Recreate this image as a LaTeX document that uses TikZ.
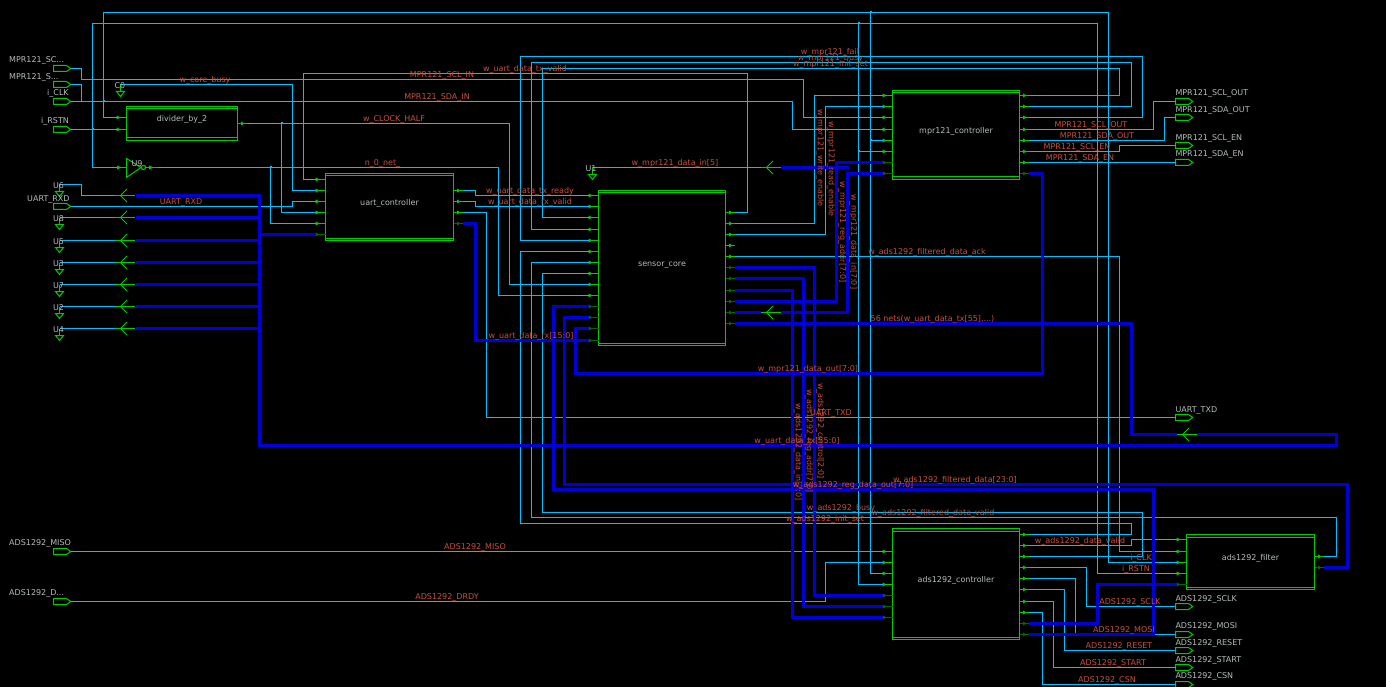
\documentclass[tikz,border=0pt]{standalone}
\usepackage{fontspec}
\setmainfont{DejaVu Sans}
\definecolor{netc}{HTML}{00BFFF}
\definecolor{busc}{HTML}{0000D8}
\definecolor{cellc}{HTML}{00CC00}
\definecolor{darkc}{HTML}{006A00}
\definecolor{redl}{HTML}{C8503C}
\definecolor{grayl}{HTML}{B4BCBC}
\tikzset{
 net/.style={color=netc,line width=1pt},
 bus/.style={color=busc,line width=3pt,line join=miter},
 cellline/.style={color=cellc,line width=1pt},
 cellbox/.style={draw=cellc,line width=1pt,inner sep=0pt,fill=none},
 nlbl/.style={text=redl,font=\fontsize{8}{8}\selectfont,inner sep=0pt,text height=8pt,text depth=1.5pt},
 vlbl/.style={nlbl,rotate=-90},
 glbl/.style={text=grayl,font=\fontsize{8}{8}\selectfont,inner sep=0pt,text height=8pt,text depth=1.5pt},
}
% cell: name, centre x, centre y, width, height, label
\newcommand{\cellblock}[6]{%
 \node[cellbox,minimum width=#4pt,minimum height=#5pt] (#1) at (#2,#3) {};
 \draw[cellline] ([yshift=-3pt]#1.north west) -- ([yshift=-3pt]#1.north east);
 \draw[cellline] ([yshift=3pt]#1.south west) -- ([yshift=3pt]#1.south east);
 \node[glbl] (#1-name) at ([yshift=5pt]#1.center) {#6};
}
% pins: coordinate name, cell edge x, y
\newcommand{\pinin}[3]{%
 \coordinate (#1) at (#2-9.5,#3);
 \draw[cellline] (#1) -- (#2,#3);
 \fill[cellc] (#2-9.8,#3-2) -- (#2-6,#3) -- (#2-9.8,#3+2) -- cycle;
}
\newcommand{\pinout}[3]{%
 \coordinate (#1) at (#2+9.5,#3);
 \draw[cellline] (#2,#3) -- (#1);
 \fill[cellc] (#2+3.5,#3-2) -- (#2+7,#3) -- (#2+3.5,#3+2) -- cycle;
}
\newcommand{\pininb}[3]{%
 \coordinate (#1) at (#2-9.5,#3);
 \draw[color=darkc,line width=1pt] (#1) -- (#2,#3);
 \fill[darkc] (#2-9.8,#3-2) -- (#2-6,#3) -- (#2-9.8,#3+2) -- cycle;
}
\newcommand{\pinoutb}[3]{%
 \coordinate (#1) at (#2+9.5,#3);
 \draw[color=darkc,line width=1pt] (#2,#3) -- (#1);
 \fill[darkc] (#2+3.5,#3-2) -- (#2+7,#3) -- (#2+3.5,#3+2) -- cycle;
}
\newcommand{\portshape}[3]{%
 \draw[cellline] (#2,#3-3) -- (#2+13,#3-3) -- (#2+17.3,#3) -- (#2+13,#3+3) -- (#2,#3+3) -- cycle;
 \coordinate (#1) at (#2+17.3,#3);
}
\newcommand{\rightport}[3]{%
 \draw[cellline] (#2,#3-3) -- (#2+13,#3-3) -- (#2+17.3,#3) -- (#2+13,#3+3) -- (#2,#3+3) -- cycle;
 \coordinate (#1) at (#2,#3);
}
\newcommand{\ripper}[2]{%
 \draw[cellline] (#1,#2) -- (#1+20,#2);
 \draw[cellline] (#1+12,#2-6.5) -- (#1+5.5,#2) -- (#1+12,#2+6.5);
}
\newcommand{\gnd}[3]{%
 \coordinate (#1) at (#2,#3);
 \draw[cellline] (#1) -- (#2,#3+7);
 \draw[cellline] (#2-4,#3+7) -- (#2+4,#3+7) -- (#2,#3+12) -- cycle;
}
\newcommand{\jdot}[2]{\fill[netc] (#1-1,#2-1) rectangle (#1+1,#2+1);}
\begin{document}
\begin{tikzpicture}[x=1pt,y=-1pt]
\useasboundingbox (0,0) rectangle (1386,687);
\fill[black] (0,0) rectangle (1386,687);

% ---- cells
\cellblock{dv}{182}{123.5}{111}{34}{divider\_by\_2}
\cellblock{uc}{389.5}{207}{128}{67}{uart\_controller}
\cellblock{sc}{662}{268}{127}{155}{sensor\_core}
\cellblock{mc}{956}{135}{127}{89}{mpr121\_controller}
\cellblock{ac}{956}{584}{127}{111}{ads1292\_controller}
\cellblock{fc}{1250.5}{562}{128}{55}{ads1292\_filter}

% ---- pins
\pinin{dvi1}{126.5}{117.5}
\pinin{dvi2}{126.5}{129.5}
\pinout{dvo}{237.5}{123.5}
\foreach \n/\y in {1/179.5,2/190.5,3/201.5,4/212.5,5/223.5}{\pinin{uci\n}{325.5}{\y}}
\pininb{uci6}{325.5}{234.5}
\foreach \n/\y in {1/190.5,2/201.5,3/212.5}{\pinout{uco\n}{453.5}{\y}}
\pinoutb{uco4}{453.5}{223.5}
\foreach \n/\y in {1/195.5,2/206.5,3/217.5,4/229.5,5/240.5,6/251.5,7/262.5,8/273.5,9/284.5,10/295.5}{\pinin{sci\n}{598.5}{\y}}
\foreach \n/\y in {11/306.5,12/317.5,13/328.5,14/340.5}{\pininb{sci\n}{598.5}{\y}}
\foreach \n/\y in {1/212.5,2/223.5,3/234.5,4/245.5,5/256.5}{\pinout{sco\n}{725.5}{\y}}
\foreach \n/\y in {6/267.5,7/278.5,8/290.5,9/301.5,10/312.5,11/323.5}{\pinoutb{sco\n}{725.5}{\y}}
\foreach \n/\y in {1/95.5,2/106.5,3/117.5,4/129.5,5/140.5,6/151.5}{\pinin{mci\n}{892.5}{\y}}
\foreach \n/\y in {7/162.5,8/173.5}{\pininb{mci\n}{892.5}{\y}}
\foreach \n/\y in {1/95.5,2/106.5,3/117.5,4/129.5,5/140.5,6/151.5,7/162.5}{\pinout{mco\n}{1019.5}{\y}}
\pinoutb{mco8}{1019.5}{173.5}
\foreach \n/\y in {1/551.5,2/562.5,3/573.5,4/584.5}{\pinin{aci\n}{892.5}{\y}}
\foreach \n/\y in {5/595.5,6/606.5,7/617.5}{\pininb{aci\n}{892.5}{\y}}
\foreach \n/\y in {1/534.5,2/545.5,3/556.5,4/567.5,5/578.5,6/589.5,7/601.5,8/612.5}{\pinout{aco\n}{1019.5}{\y}}
\foreach \n/\y in {9/623.5,10/634.5}{\pinoutb{aco\n}{1019.5}{\y}}
\foreach \n/\y in {1/539.5,2/551.5,3/562.5,4/573.5}{\pinin{fci\n}{1186.5}{\y}}
\pininb{fci5}{1186.5}{584.5}
\pinout{fco1}{1314.5}{556.5}
\pinoutb{fco2}{1314.5}{567.5}

% ---- ports
\portshape{psc}{53.5}{68.5}
\portshape{psd}{53.5}{84.5}
\portshape{pclk}{53.5}{101.5}
\portshape{prst}{53.5}{129.5}
\portshape{prxd}{53.5}{206.5}
\portshape{pmiso}{53.5}{551.5}
\portshape{pdrdy}{53.5}{601.5}
\rightport{psclo}{1175.5}{101.5}
\rightport{psdao}{1175.5}{117.5}
\rightport{psclen}{1175.5}{145.5}
\rightport{psdaen}{1175.5}{162.5}
\rightport{ptxd}{1175.5}{417.5}
\rightport{pasclk}{1175.5}{606.5}
\rightport{pamosi}{1175.5}{634.5}
\rightport{pareset}{1175.5}{650.5}
\rightport{pastart}{1175.5}{667.5}
\rightport{pacsn}{1175.5}{684.5}

% ---- ground symbols and rippers
\gnd{g0}{120.5}{84.5}
\gnd{g6}{59.5}{184.5}
\gnd{g8}{59.5}{217.5}
\gnd{g5}{59.5}{240.5}
\gnd{g3}{59.5}{262.5}
\gnd{g7}{59.5}{284.5}
\gnd{g2}{59.5}{306.5}
\gnd{g4}{59.5}{328.5}
\gnd{g1}{592.5}{167.5}
\foreach \y in {195.5,217.5,240.5,262.5,284.5,306.5,328.5}{\ripper{115}{\y}}
\ripper{761}{167.5}
\ripper{761}{312.5}
\ripper{1177}{434.5}

% ---- inverter
\coordinate (u9i) at (117,167.5);
\coordinate (u9o) at (158,167.5);
\draw[cellline] (126.5,158.5) -- (141,167.5) -- (126.5,177.5) -- cycle;
\draw[cellline] (143.5,167.5) circle (2.2);
\draw[cellline] (u9i) -- (126.5,167.5);
\draw[cellline] (145.7,167.5) -- (u9o);
\fill[cellc] (117.2,165.5) -- (121,167.5) -- (117.2,169.5) -- cycle;
\fill[cellc] (149,165.5) -- (153,167.5) -- (149,169.5) -- cycle;

% ---- nets
\draw[net] (psc) -| (81.5,79.5) -| (803.5,117.5) -- (mci3);
\draw[net] (psd) -| (81.5,101.5) -| (792.5,129.5) -- (mci4);
\draw[net] (pclk) -- (103.5,101.5);
\draw[net] (dvi1) -| (103.5,12.5) -| (1108.5,562.5) -- (fci3);
\draw[net] (prst) -- (dvi2);
\draw[net] (u9i) -| (92.5,23.5) -| (1097.5,573.5) -- (fci4);
\draw[net] (870.5,11) |- (aci3);
\draw[net] (870.5,140.5) -- (mci5);
\draw[net] (858.5,22) |- (aci4);
\draw[net] (858.5,151.5) -- (mci6);
\draw[net] (dvo) -| (509.5,284.5) -- (sci9);
\draw[net] (281.5,123.5) |- (uci4);
\draw[net] (u9o) -| (498.5,295.5) -- (sci10);
\draw[net] (270.5,167.5) |- (uci5);
\draw[net] (g0) -| (292.5,190.5) -- (uci2);
\draw[net] (prxd) -| (292.5,201.5) -- (uci3);
\draw[net] (sco1) -| (747.5,73.5) -| (303.5,179.5) -- (uci1);
\draw[net] (uco1) -| (475.5,195.5) -- (sci1);
\draw[net] (uco2) -| (475.5,206.5) -- (sci2);
\draw[net] (uco3) -| (486.5,417.5) -- (ptxd);
\draw[net] (sci3) -| (542.5,68.5) -| (1119.5,95.5) -- (mco1);
\draw[net] (sci4) -| (531.5,62.5) -| (1131.5,106.5) -- (mco2);
\draw[net] (sci5) -| (520.5,56.5) -| (1142.5,117.5) -- (mco3);
\draw[net] (sci6) -| (520.5,523.5) -| (1131.5,534.5) -- (aco1);
\draw[net] (sci7) -| (531.5,517.5) -| (1336.5,556.5) -- (fco1);
\draw[net] (sci8) -| (542.5,512.5) -| (1142.5,556.5) -- (aco3);
\draw[net] (aco2) -| (1131.5,539.5) -- (fci1);
\draw[net] (sco2) -| (814.5,95.5) -- (mci1);
\draw[net] (sco3) -| (825.5,106.5) -- (mci2);
\draw[net] (sco5) -| (1119.5,551.5) -- (fci2);
\draw[net] (mco4) -| (1153.5,101.5) -- (psclo);
\draw[net] (mco5) -| (1164.5,117.5) -- (psdao);
\draw[net] (mco6) -| (1119.5,145.5) -- (psclen);
\draw[net] (mco7) -- (psdaen);
\draw[net] (pmiso) -- (aci1);
\draw[net] (pdrdy) -| (825.5,562.5) -- (aci2);
\draw[net] (aco4) -| (1086.5,606.5) -- (pasclk);
\draw[net] (aco5) -| (1075.5,634.5) -- (pamosi);
\draw[net] (aco6) -| (1064.5,650.5) -- (pareset);
\draw[net] (aco7) -| (1053.5,667.5) -- (pastart);
\draw[net] (aco8) -| (1042.5,684.5) -- (pacsn);
\draw[net] (g6) -| (81.5,195.5) -- (115,195.5);
\foreach \nm/\y in {g8/217.5,g5/240.5,g3/262.5,g7/284.5,g2/306.5,g4/328.5}{\draw[net] (\nm) -- (115,\y);}
\draw[net] (g1) -- (761,167.5);
\jdot{103.5}{101.5}
\jdot{92.5}{129.5}
\jdot{281.5}{123.5}
\jdot{270.5}{167.5}
\jdot{870.5}{12.5}
\jdot{858.5}{23.5}
\jdot{870.5}{140.5}
\jdot{858.5}{151.5}

% ---- buses
\draw[bus] (uco4) -| (475.5,340.5) -- (sci14);
\draw[bus] (sci11) -| (553.5,489.5) -| (1153.5,634.5) -- (aco10);
\draw[bus] (sci12) -| (564.5,484.5) -| (1347.5,567.5) -- (fco2);
\draw[bus] (sci13) -| (575.5,373.5) -| (1042.5,173.5) -- (mco8);
\draw[bus] (sco6) -| (814.5,595.5) -- (aci5);
\draw[bus] (sco7) -| (803.5,606.5) -- (aci6);
\draw[bus] (sco8) -| (792.5,617.5) -- (aci7);
\draw[bus] (sco9) -| (836.5,162.5) -- (mci7);
\draw[bus] (sco10) -- (761,312.5);
\draw[bus] (781,312.5) -| (847.5,173.5) -- (mci8);
\draw[bus] (781,167.5) -- (849,167.5);
\draw[bus] (sco11) -| (1131.5,434.5) -- (1177,434.5);
\draw[bus] (1197,434.5) -| (1336.5,445.5) -| (259.5,195.5) -- (136,195.5);
\foreach \y in {217.5,240.5,262.5,284.5,306.5,328.5}{\draw[bus] (136,\y) -- (259.5,\y);}
\draw[bus] (259.5,234.5) -- (uci6);
\draw[bus] (aco9) -| (1097.5,584.5) -- (fci5);

% ---- port and instance labels
\node[glbl,anchor=west] (t1) at (9,59.5) {MPR121\_SC...};
\node[glbl,anchor=west] (t2) at (9,76) {MPR121\_S...};
\node[glbl,anchor=west] (t3) at (47,92.5) {i\_CLK};
\node[glbl,anchor=west] (t4) at (41,120.5) {i\_RSTN};
\node[glbl,anchor=west] (t5) at (27,198) {UART\_RXD};
\node[glbl,anchor=west] (t6) at (9,542) {ADS1292\_MISO};
\node[glbl,anchor=west] (t7) at (9,592) {ADS1292\_D...};
\node[glbl] (t8) at (120,85) {C0};
\node[glbl] (t9) at (137,163) {U9};
\node[glbl] (t10) at (58.5,185) {U6};
\node[glbl] (t11) at (58.5,218) {U8};
\node[glbl] (t12) at (58.5,241) {U5};
\node[glbl] (t13) at (58.5,263) {U3};
\node[glbl] (t14) at (58.5,285) {U7};
\node[glbl] (t15) at (58.5,307) {U2};
\node[glbl] (t16) at (58.5,329) {U4};
\node[glbl] (t17) at (591,168) {U1};
\node[glbl,anchor=west] (t18) at (1175.3,92) {MPR121\_SCL\_OUT};
\node[glbl,anchor=west] (t19) at (1175.3,109) {MPR121\_SDA\_OUT};
\node[glbl,anchor=west] (t20) at (1175.3,137) {MPR121\_SCL\_EN};
\node[glbl,anchor=west] (t21) at (1175.3,153) {MPR121\_SDA\_EN};
\node[glbl,anchor=west] (t22) at (1175.3,409) {UART\_TXD};
\node[glbl,anchor=west] (t23) at (1175.3,598) {ADS1292\_SCLK};
\node[glbl,anchor=west] (t24) at (1175.3,625) {ADS1292\_MOSI};
\node[glbl,anchor=west] (t25) at (1175.3,642) {ADS1292\_RESET};
\node[glbl,anchor=west] (t26) at (1175.3,659) {ADS1292\_START};
\node[glbl,anchor=west] (t27) at (1175.3,675) {ADS1292\_CSN};

% ---- net labels
\node[nlbl] (n1) at (205,79) {w\_core\_busy};
\node[nlbl] (n2) at (442,74) {MPR121\_SCL\_IN};
\node[nlbl] (n3) at (437,96) {MPR121\_SDA\_IN};
\node[nlbl] (n4) at (394,118) {w\_CLOCK\_HALF};
\node[nlbl] (n5) at (382.5,162) {n\_0\_net\_};
\node[nlbl] (n6) at (181,201.5) {UART\_RXD};
\node[nlbl] (n7) at (525,68) {w\_uart\_data\_tx\_valid};
\node[nlbl] (n8) at (830,51) {w\_mpr121\_fail};
\node[nlbl] (n9) at (830.5,57.5) {w\_mpr121\_busy};
\node[nlbl] (n10) at (830.5,63) {w\_mpr121\_init\_set};
\node[nlbl] (n11) at (675,162) {w\_mpr121\_data\_in[5]};
\node[nlbl] (n12) at (530,190) {w\_uart\_data\_tx\_ready};
\node[nlbl] (n13) at (530,201) {w\_uart\_data\_rx\_valid};
\node[nlbl] (n14) at (927,251) {w\_ads1292\_filtered\_data\_ack};
\node[nlbl] (n15) at (932.5,318) {56 nets(w\_uart\_data\_tx[55],...)};
\node[nlbl] (n16) at (531,335) {w\_uart\_data\_rx[15:0]};
\node[nlbl] (n17) at (808,368) {w\_mpr121\_data\_out[7:0]};
\node[nlbl] (n18) at (831,412) {UART\_TXD};
\node[nlbl] (n19) at (797,440) {w\_uart\_data\_tx[55:0]};
\node[nlbl] (n20) at (955,479) {w\_ads1292\_filtered\_data[23:0]};
\node[nlbl] (n21) at (853,484) {w\_ads1292\_reg\_data\_out[7:0]};
\node[nlbl] (n22) at (841,507) {w\_ads1292\_busy};
\node[nlbl] (n23) at (933,512) {w\_ads1292\_filtered\_data\_valid};
\node[nlbl] (n24) at (825,518) {w\_ads1292\_init\_set};
\node[nlbl] (n25) at (475,546) {ADS1292\_MISO};
\node[nlbl] (n26) at (447,596) {ADS1292\_DRDY};
\node[nlbl] (n27) at (1080,540) {w\_ads1292\_data\_valid};
\node[nlbl] (n28) at (1141,557) {i\_CLK};
\node[nlbl] (n29) at (1136,568) {i\_RSTN};
\node[nlbl] (n30) at (1130,601) {ADS1292\_SCLK};
\node[nlbl] (n31) at (1124,629) {ADS1292\_MOSI};
\node[nlbl] (n32) at (1119,645) {ADS1292\_RESET};
\node[nlbl] (n33) at (1113,662) {ADS1292\_START};
\node[nlbl] (n34) at (1107,679) {ADS1292\_CSN};
\node[nlbl] (n35) at (1091,124) {MPR121\_SCL\_OUT};
\node[nlbl] (n36) at (1097,135) {MPR121\_SDA\_OUT};
\node[nlbl] (n37) at (1077,146) {MPR121\_SCL\_EN};
\node[nlbl] (n38) at (1080,157) {MPR121\_SDA\_EN};
\node[vlbl] (v1) at (821,158) {w\_mpr121\_write\_enable};
\node[vlbl] (v2) at (832,169) {w\_mpr121\_read\_enable};
\node[vlbl] (v3) at (843.3,232) {w\_mpr121\_reg\_addr[7:0]};
\node[vlbl] (v4) at (854.7,242) {w\_mpr121\_data\_in[7:0]};
\node[vlbl] (v5) at (821.3,431) {w\_ads1292\_control[2:0]};
\node[vlbl] (v6) at (810,441) {w\_ads1292\_reg\_addr[7:0]};
\node[vlbl] (v7) at (799,452) {w\_ads1292\_data\_in[7:0]};
\end{tikzpicture}
\end{document}
